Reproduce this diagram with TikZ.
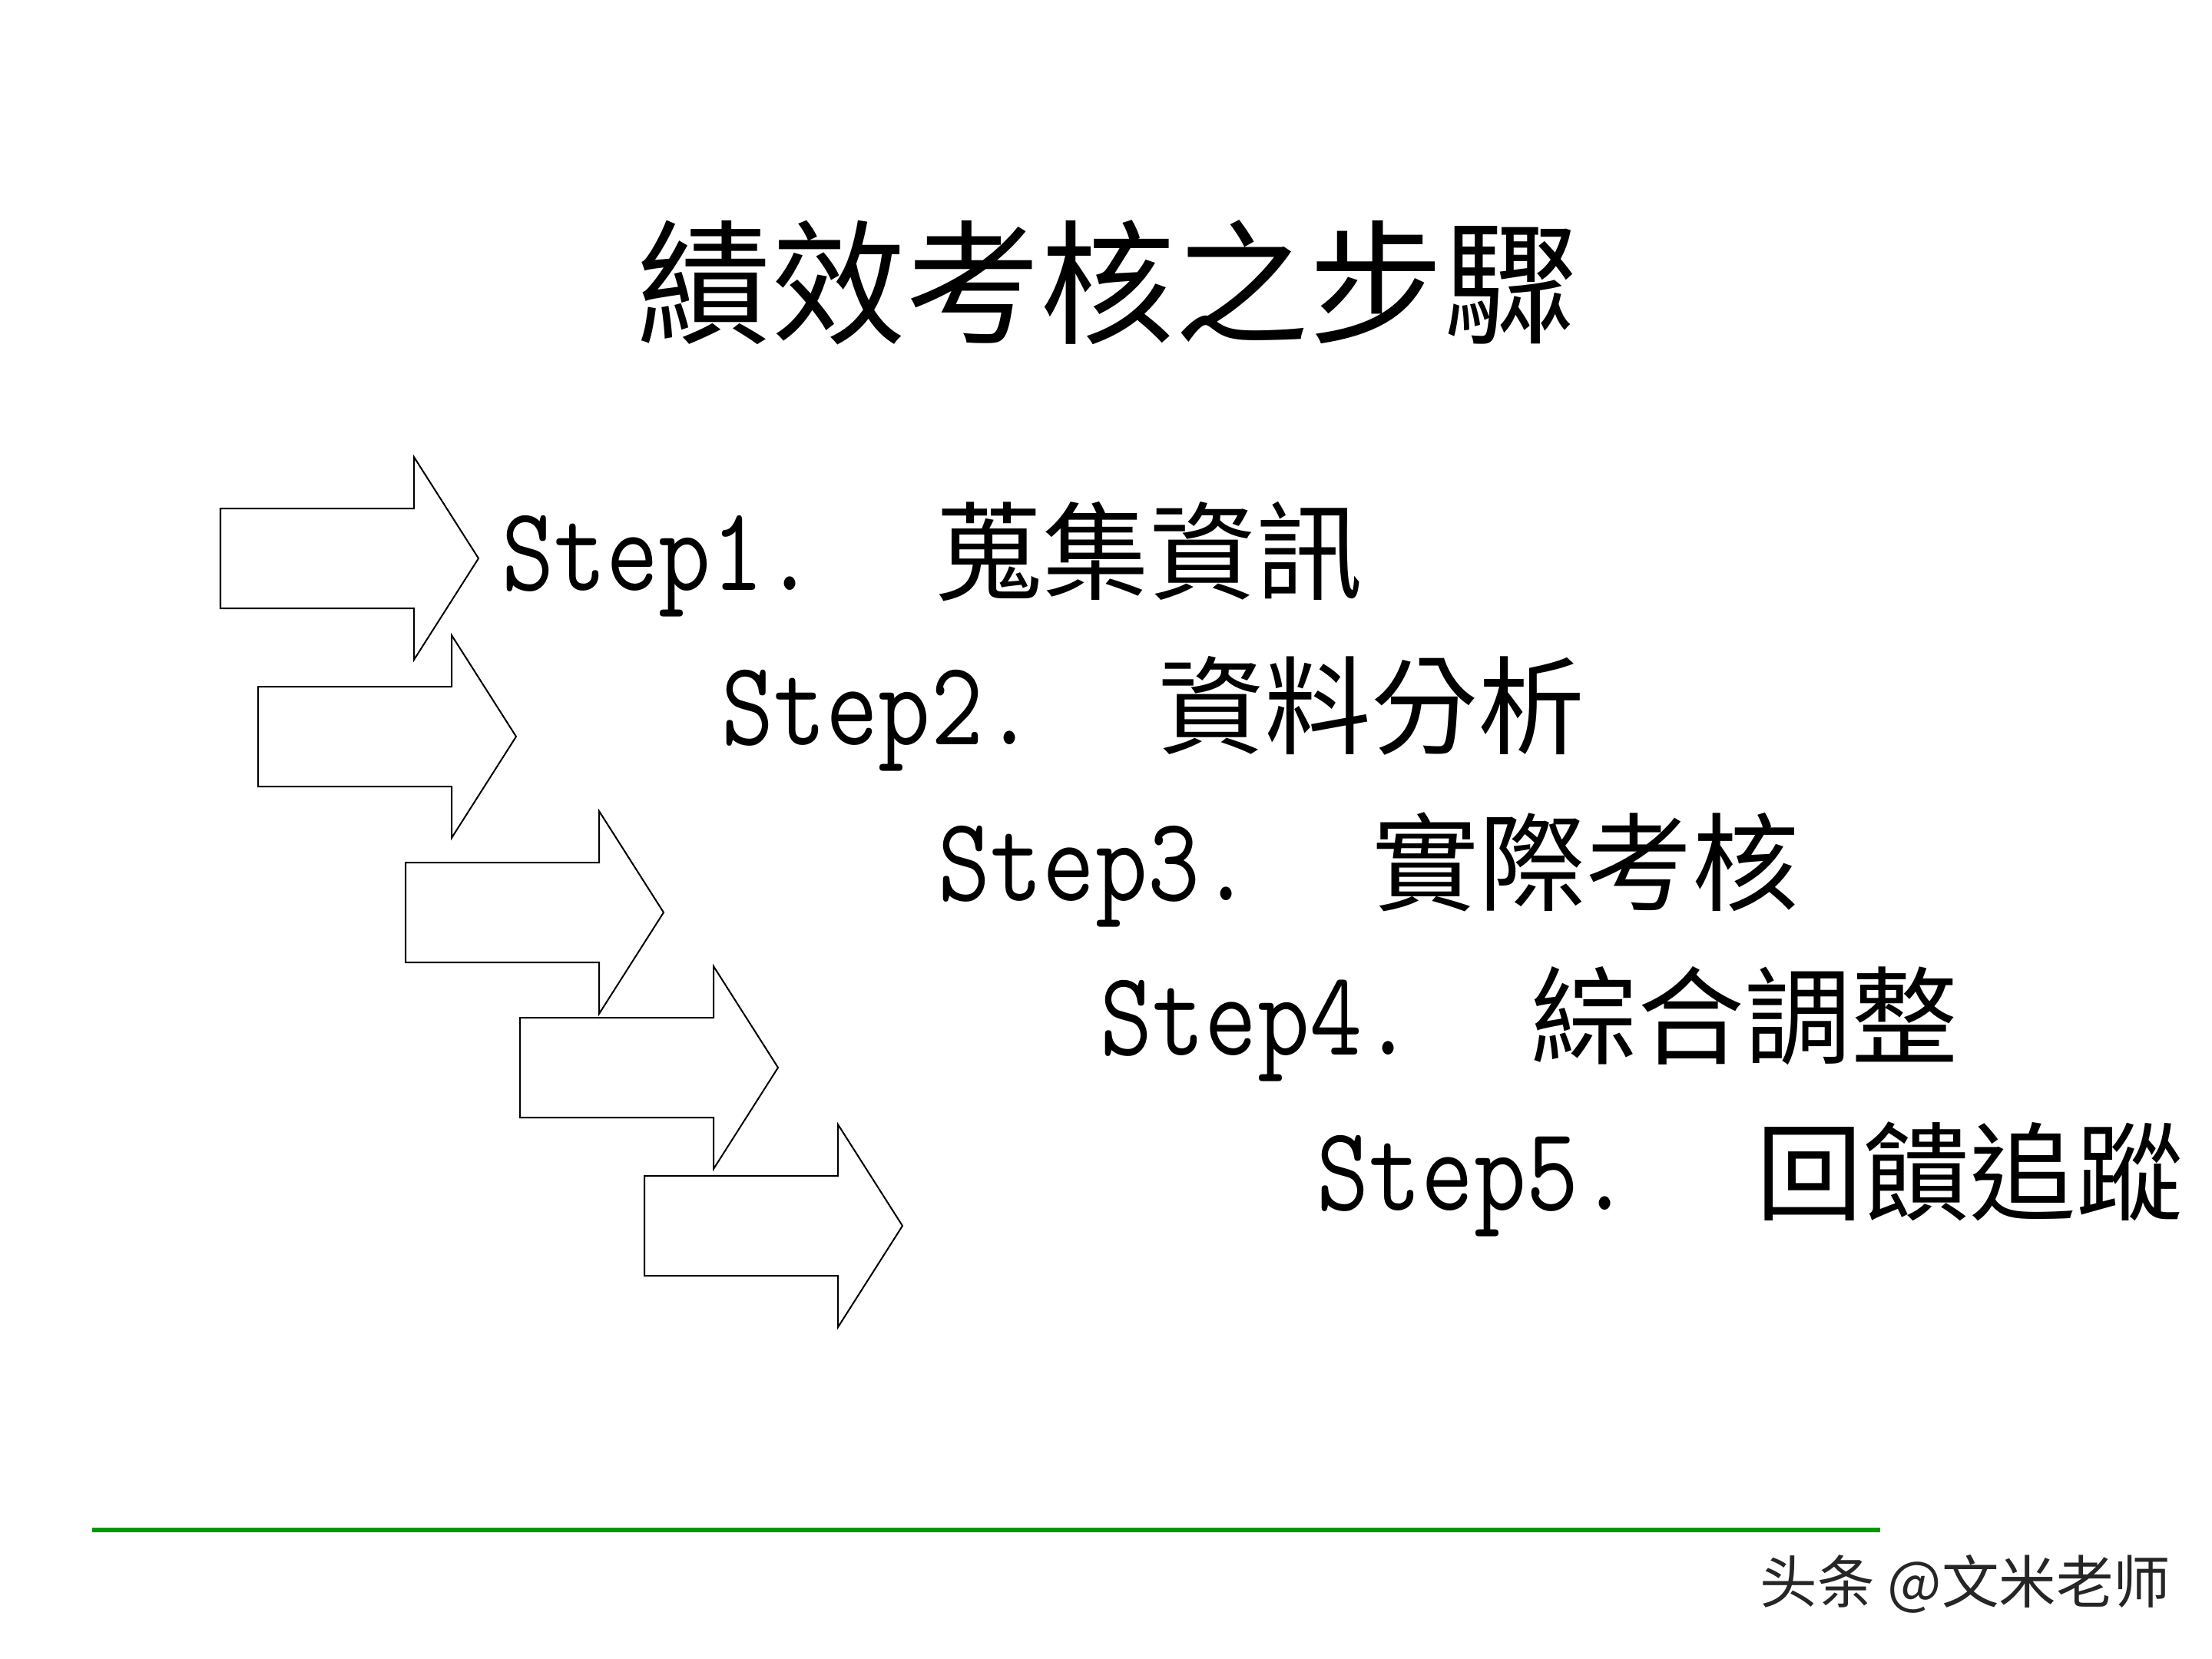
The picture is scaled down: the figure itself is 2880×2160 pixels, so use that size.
\documentclass[tikz,border=0pt]{standalone}
\usepackage{fontspec}
\usepackage{graphicx}
\newfontfamily\tcfont{Noto Sans CJK TC}
\newfontfamily\scfont{Noto Sans CJK SC}
\setmonofont{Latin Modern Mono}
\definecolor{linegreen}{RGB}{0,153,0}
\tikzset{
  arrowline/.style={draw=black, line width=0.57pt, line join=miter},
  bigarrow/.pic={\path[arrowline] (0,-65) -- (252,-65) -- (252,-132) -- (336,0) -- (252,132) -- (252,65) -- (0,65) -- cycle;},
  titletext/.style={inner sep=0pt, font=\tcfont\fontsize{49.8}{55}\selectfont},
  steplatin/.style={inner sep=0pt, anchor=base west, font=\ttfamily\fontsize{37.6}{40}\selectfont},
  stepcjk/.style={inner sep=0pt, anchor=west, font=\tcfont\fontsize{39.5}{44}\selectfont},
  wmtext/.style={inner sep=0pt, anchor=west, text=black!85, font=\scfont\fontsize{21.2}{24}\selectfont},
  greenrule/.style={draw=linegreen, line width=1.62pt},
}
\newcommand{\steptxt}[1]{\scalebox{1}[1.18]{#1}}
\begin{document}
\begin{tikzpicture}[x=0.01cm, y=-0.01cm]
  \fill[white] (0,0) rectangle (2880,2160);
  \useasboundingbox (0,0) rectangle (2880,2160);

  % title
  \node[titletext] (title) at (1442,368) {績效考核之步驟};

  % arrows
  \pic (a1) at (287,727) {bigarrow};
  \pic (a2) at (336,959) {bigarrow};
  \pic (a3) at (528,1188) {bigarrow};
  \pic (a4) at (677,1390) {bigarrow};
  \pic (a5) at (839,1596) {bigarrow};

  % steps
  \node[steplatin] (s1) at (653,768)  {\steptxt{Step1.}};
  \node[stepcjk]   (c1) at (1218,718) {蒐集資訊};
  \node[steplatin] (s2) at (939,969)  {\steptxt{Step2.}};
  \node[stepcjk]   (c2) at (1507,919) {資料分析};
  \node[steplatin] (s3) at (1221,1172) {\steptxt{Step3.}};
  \node[stepcjk]   (c3) at (1786,1122) {實際考核};
  \node[steplatin] (s4) at (1432,1373) {\steptxt{Step4.}};
  \node[stepcjk]   (c4) at (1993,1323) {綜合調整};
  \node[steplatin] (s5) at (1714,1575) {\steptxt{Step5.}};
  \node[stepcjk]   (c5) at (2286,1525) {回饋追蹤};

  % green rule
  \coordinate (gl) at (120,1992);
  \coordinate (gr) at (2448,1992);
  \draw[greenrule] (gl) -- (gr);

  % watermark
  \node[wmtext] (wm) at (2291,2062) {头条 @文米老师};
\end{tikzpicture}
\end{document}
